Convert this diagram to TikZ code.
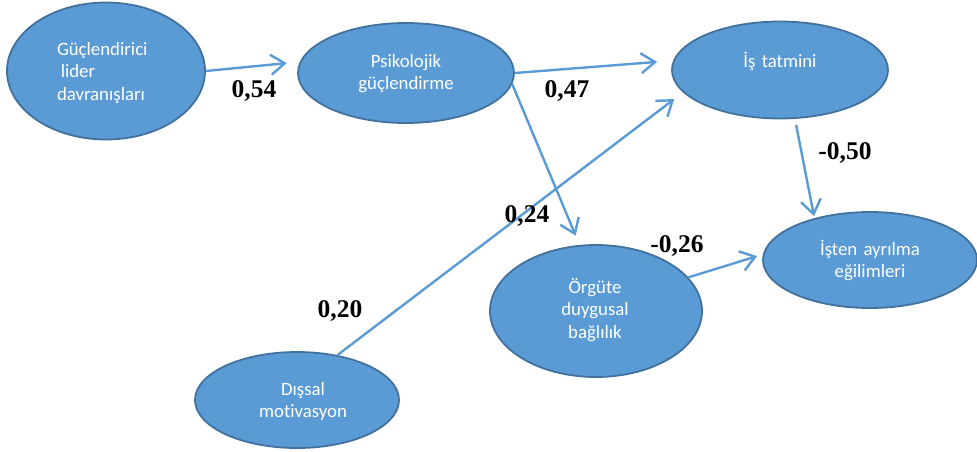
\documentclass[tikz,border=0pt]{standalone}
\usepackage{fontspec}
\setmainfont{Liberation Serif}
\newfontfamily\calib[Ligatures=NoCommon]{Carlito}
\usetikzlibrary{shapes.geometric,arrows.meta}
\definecolor{nodefill}{HTML}{5B9BD5}
\definecolor{nodeedge}{HTML}{41719C}
\begin{document}
\begin{tikzpicture}[x=1pt,y=-1pt,
  latent/.style={ellipse, draw=nodeedge, fill=nodefill, line width=1.8pt, inner sep=0pt},
  caption/.style={text=white, font=\calib\fontsize{18.8}{22.5}\selectfont, anchor=base,
    inner sep=0pt, text width=#1, align=center},
  coef/.style={font=\bfseries\fontsize{25.5}{25.5}\selectfont, anchor=base, inner sep=0pt},
  effect/.style={draw=nodefill, line width=2.4pt, -{Straight Barb[length=14pt,width=20pt]}}]
\useasboundingbox (0,0) rectangle (977,451);

% constructs
\node[latent, minimum width=198pt, minimum height=137pt] (g) at (106,71) {};
\node[latent, minimum width=216pt, minimum height=100pt] (p) at (406,73) {};
\node[latent, minimum width=216pt, minimum height=97pt]  (i) at (780,70) {};
\node[latent, minimum width=212pt, minimum height=132pt] (o) at (596,311) {};
\node[latent, minimum width=214pt, minimum height=96pt]  (t) at (870,260) {};
\node[latent, minimum width=204pt, minimum height=96pt]  (d) at (297,400) {};

% construct names
\node[caption=120pt, align=left] (gT) at (117,55) {Güçlendirici\\\hspace*{.2em}lider\\davranışları};
\node[caption=140pt] (pT) at (406,67) {Psikolojik\\güçlendirme};
\node[caption=140pt] (iT) at (780,67) {İş tatmini};
\node[caption=140pt] (tT) at (870,255) {İşten ayrılma\\eğilimleri};
\node[caption=140pt] (oT) at (595,293) {Örgüte\\duygusal\\bağlılık};
\node[caption=140pt] (dT) at (303,395) {Dışsal\\motivasyon};

% paths
\draw[effect, shorten >=13pt] (g.east) -- (p.174);
\draw[effect, shorten >=16pt] (p.east) -- (i.175);
\draw[effect, shorten >=10pt] (p.-6) -- (o.104);
\draw[effect, shorten >=11pt] (d.48) -- (i.-167);
\draw[effect, shorten <=6pt, shorten >=2pt] (i.-73) -- (t.143);
\draw[effect, shorten >=6pt] (o.20) -- (t.177);

% path coefficients
\node[coef] (c1) at (254,97) {0,54};
\node[coef] (c2) at (567,97) {0,47};
\node[coef] (c3) at (845,159) {-0,50};
\node[coef] (c4) at (527,222) {0,24};
\node[coef] (c5) at (677,252) {-0,26};
\node[coef] (c6) at (340,317) {0,20};
\end{tikzpicture}
\end{document}
